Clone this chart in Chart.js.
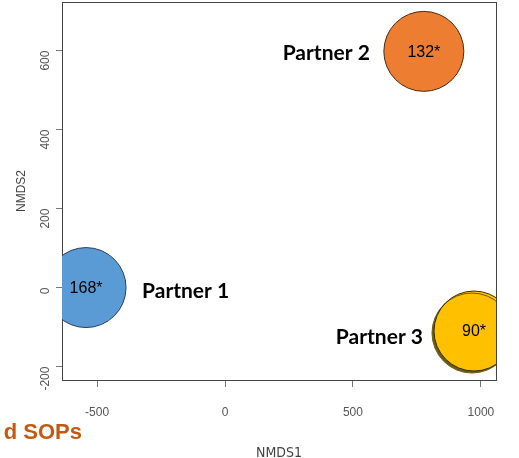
<!DOCTYPE html>
<html lang="en">
<head>
  <meta charset="UTF-8">
  <title>NMDS partners</title>
  <script src="https://cdn.jsdelivr.net/npm/chart.js"></script>
  <style>
    html, body { margin: 0; padding: 0; background: #fff; }
    #wrap { width: 519px; height: 458px; }
  </style>
</head>
<body>
  <div id="wrap"><canvas id="nmdsChart"></canvas></div>

  <script>
    // data
    const partners = ['Partner 1', 'Partner 2', 'Partner 3'];
    const nmds1 = [-543, 777, 973];
    const nmds2 = [0, 598, -110];
    const counts = ['168*', '132*', '90*'];
    const xTicks = [-500, 0, 500, 1000];
    const yTicks = [-200, 0, 200, 400, 600];

    const fills = ['#5b9bd5', '#ed7d31', '#ffc000'];
    const edges = ['#2b3f55', '#4a2a12', '#3a3000'];
    const tickFont = { family: "'Liberation Sans', Arial, sans-serif", size: 12 };

    // box round the plot, drawn under the circles
    const boxPlugin = {
      id: 'box',
      beforeDatasetsDraw(chart) {
        const a = chart.chartArea, ctx = chart.ctx;
        ctx.save();
        ctx.strokeStyle = '#444';
        ctx.lineWidth = 1;
        ctx.strokeRect(a.left + 0.5, a.top + 0.5, a.right - a.left, a.bottom - a.top);
        ctx.restore();
      }
    };

    // shadow behind the yellow circle
    const shadowPlugin = {
      id: 'shadow',
      beforeDatasetDraw(chart, args) {
        if (args.index !== 2) return;
        const ctx = chart.ctx;
        ctx.save();
        ctx.shadowColor = '#6b5b1a';
        ctx.shadowOffsetX = -2;
        ctx.shadowOffsetY = 2;
        ctx.shadowBlur = 0;
      },
      afterDatasetDraw(chart, args) {
        if (args.index === 2) chart.ctx.restore();
      }
    };

    // counts inside circles, partner names beside them
    const textPlugin = {
      id: 'texts',
      afterDatasetsDraw(chart) {
        const ctx = chart.ctx;
        ctx.save();
        ctx.textBaseline = 'middle';
        chart.data.datasets.forEach((ds, i) => {
          const pt = chart.getDatasetMeta(i).data[0];
          ctx.fillStyle = '#000';
          ctx.font = "16px 'Liberation Sans', Arial, sans-serif";
          ctx.textAlign = 'center';
          ctx.fillText(counts[i], pt.x, pt.y + 1);

          ctx.font = "bold 21px Lato, 'Open Sans', sans-serif";
          if (i === 0) {
            ctx.textAlign = 'left';
            ctx.fillText(partners[i], pt.x + 56, pt.y + 4);
          } else {
            ctx.textAlign = 'right';
            ctx.fillText(partners[i], pt.x - (i === 1 ? 54 : 51), pt.y + (i === 1 ? 2 : 6));
          }
        });
        // cut-off slide heading under the plot
        ctx.font = "bold 22px 'Liberation Sans', Arial, sans-serif";
        ctx.fillStyle = '#c65911';
        ctx.textAlign = 'right';
        ctx.textBaseline = 'alphabetic';
        ctx.fillText('d SOPs', 82, 439);
        ctx.restore();
      }
    };

    function noPad(scale) {
      scale.paddingTop = 0;
      scale.paddingBottom = 0;
      scale.paddingLeft = 0;
      scale.paddingRight = 0;
    }

    const ctx = document.getElementById('nmdsChart').getContext('2d');
    new Chart(ctx, {
      type: 'scatter',
      data: {
        datasets: partners.map((p, i) => ({
          label: p,
          data: [{ x: nmds1[i], y: nmds2[i] }],
          backgroundColor: fills[i],
          borderColor: edges[i],
          borderWidth: 1,
          pointRadius: 40,
          pointHoverRadius: 40
        }))
      },
      options: {
        responsive: true,
        maintainAspectRatio: false,
        animation: false,
        layout: { autoPadding: false, padding: { left: 0, right: 23, top: 2, bottom: 0 } },
        plugins: { legend: { display: false }, tooltip: { enabled: false } },
        scales: {
          x: {
            type: 'linear',
            min: -637,
            max: 1059,
            border: { display: false },
            grid: { drawOnChartArea: false, drawTicks: true, tickLength: 7, color: '#777' },
            ticks: { font: tickFont, color: '#555', padding: 18, callback: v => String(v) },
            afterBuildTicks(scale) { scale.ticks = xTicks.map(v => ({ value: v })); },
            title: { display: true, text: 'NMDS1', font: { family: "'DejaVu Sans Condensed', sans-serif", size: 14 }, color: '#444', padding: { top: 0, bottom: -4 } },
            afterFit(scale) { scale.height = 78; noPad(scale); }
          },
          y: {
            type: 'linear',
            min: -234,
            max: 723,
            border: { display: false },
            grid: { drawOnChartArea: false, drawTicks: true, tickLength: 6, color: '#777' },
            ticks: { font: tickFont, color: '#555', minRotation: 90, maxRotation: 90, padding: 10, callback: v => String(v) },
            afterBuildTicks(scale) { scale.ticks = yTicks.map(v => ({ value: v })); },
            title: { display: true, text: 'NMDS2', font: { family: "'Liberation Sans', Arial, sans-serif", size: 12 }, color: '#444', padding: { top: 14, bottom: 0 } },
            afterFit(scale) { scale.width = 62; noPad(scale); }
          }
        }
      },
      plugins: [boxPlugin, shadowPlugin, textPlugin]
    });
  </script>
</body>
</html>
